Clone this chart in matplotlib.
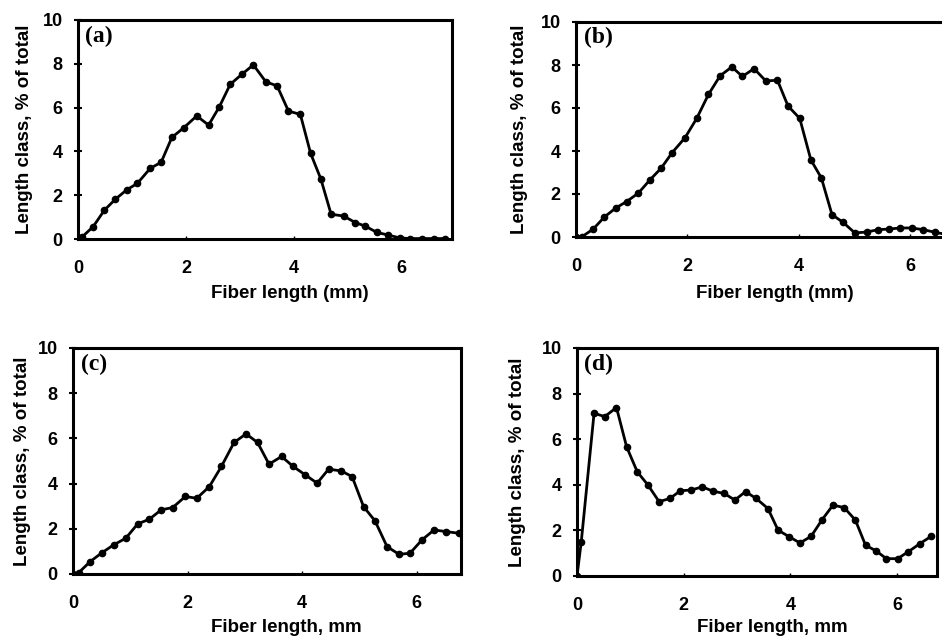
import matplotlib
matplotlib.use("Agg")
import matplotlib.pyplot as plt

# fiber length distributions
xa = [0.0, 0.07, 0.28, 0.49, 0.69, 0.90, 1.10, 1.34, 1.54, 1.74, 1.96, 2.20, 2.42, 2.62, 2.82,
      3.04, 3.25, 3.48, 3.69, 3.90, 4.12, 4.31, 4.50, 4.69, 4.92, 5.14, 5.32, 5.54, 5.75, 5.96,
      6.15, 6.37, 6.59, 6.80]
ya = [0.0, 0.08, 0.56, 1.32, 1.81, 2.24, 2.54, 3.23, 3.50, 4.64, 5.08, 5.62, 5.20, 6.04, 7.06,
      7.53, 7.95, 7.18, 6.99, 5.84, 5.69, 3.91, 2.74, 1.13, 1.05, 0.75, 0.59, 0.30, 0.18, 0.05,
      0.02, 0.02, 0.02, 0.02]

xb = [0.0, 0.10, 0.31, 0.51, 0.71, 0.91, 1.12, 1.33, 1.53, 1.73, 1.96, 2.17, 2.38, 2.59, 2.80,
      2.99, 3.20, 3.41, 3.62, 3.81, 4.02, 4.22, 4.41, 4.60, 4.80, 5.01, 5.22, 5.43, 5.62, 5.83,
      6.03, 6.24, 6.45, 6.65]
yb = [0.0, 0.0, 0.37, 0.93, 1.34, 1.65, 2.04, 2.66, 3.20, 3.93, 4.62, 5.52, 6.63, 7.50, 7.91,
      7.47, 7.83, 7.26, 7.29, 6.09, 5.52, 3.59, 2.74, 1.04, 0.68, 0.19, 0.23, 0.34, 0.37, 0.42,
      0.42, 0.34, 0.22, 0.12]

xc = [0.0, 0.10, 0.30, 0.51, 0.71, 0.92, 1.13, 1.33, 1.54, 1.74, 1.96, 2.16, 2.38, 2.59, 2.81,
      3.02, 3.22, 3.42, 3.64, 3.84, 4.05, 4.26, 4.46, 4.68, 4.87, 5.07, 5.27, 5.48, 5.69, 5.88,
      6.09, 6.30, 6.50, 6.74]
yc = [0.0, 0.06, 0.55, 0.95, 1.29, 1.58, 2.22, 2.42, 2.84, 2.94, 3.43, 3.35, 3.87, 4.76, 5.82,
      6.20, 5.82, 4.86, 5.20, 4.76, 4.39, 4.02, 4.64, 4.56, 4.31, 2.98, 2.35, 1.21, 0.87, 0.92,
      1.51, 1.95, 1.88, 1.80]

xd = [0.0, 0.08, 0.32, 0.52, 0.74, 0.93, 1.13, 1.33, 1.54, 1.74, 1.94, 2.14, 2.35, 2.55, 2.76,
      2.96, 3.16, 3.36, 3.58, 3.77, 3.98, 4.18, 4.39, 4.59, 4.80, 5.01, 5.22, 5.41, 5.61, 5.80,
      6.01, 6.21, 6.43, 6.64]
yd = [0.0, 1.50, 7.14, 6.99, 7.39, 5.67, 4.57, 3.99, 3.26, 3.40, 3.74, 3.77, 3.91, 3.72, 3.62,
      3.33, 3.70, 3.40, 2.96, 2.01, 1.72, 1.45, 1.74, 2.45, 3.11, 3.00, 2.45, 1.35, 1.10, 0.76,
      0.76, 1.06, 1.42, 1.74]

panels = ["(a)", "(b)", "(c)", "(d)"]
xlabels = ["Fiber length (mm)", "Fiber length (mm)", "Fiber length, mm", "Fiber length, mm"]
ylabel = "Length class, % of total"
yticks = [0, 2, 4, 6, 8, 10]
xticks = [0, 2, 4, 6]

W, H = 942, 639
# axes boxes in pixels: left, top, right, bottom
boxes = [(78, 20, 452, 239), (576, 22, 960, 237), (73, 348, 461, 574), (577, 348, 937, 576)]
xmax = [6.93, 6.9, 6.77, 6.75]
series = [(xa, ya), (xb, yb), (xc, yc), (xd, yd)]
ylab_x = [33, 528, 31, 526]     # right edge of rotated y label (px)
xlab_x = [290, 775, 286, 772]   # centre of x label (px)
xlab_y = [285, 285, 619, 619]   # top of x label (px)

plt.rcParams["font.family"] = ["Liberation Sans", "DejaVu Sans"]
plt.rcParams["font.weight"] = "bold"

fig = plt.figure(figsize=(W / 100, H / 100), dpi=100)

for i, (l, t, r, b) in enumerate(boxes):
    ax = fig.add_axes([l / W, (H - b) / H, (r - l) / W, (b - t) / H])
    x, y = series[i]
    ax.plot(x, y, color="black", lw=2.0, marker="o", ms=4.5, mfc="black", mec="black")
    ax.set_xlim(0, xmax[i])
    ax.set_ylim(0, 10)
    ax.set_xticks(xticks)
    ax.set_yticks(yticks)
    for s in ax.spines.values():
        s.set_linewidth(2.2)
    ax.tick_params(axis="y", direction="inout", length=6, width=1.5, pad=8, labelsize=13)
    ax.tick_params(axis="x", direction="in", length=2, width=1, pad=15, labelsize=13)
    for lab in ax.get_xticklabels() + ax.get_yticklabels():
        lab.set_fontweight("bold")
    ax.set_ylabel(ylabel, fontsize=13.5, fontweight="bold")
    ax.set_xlabel(xlabels[i], fontsize=13.5, fontweight="bold")
    ax.yaxis.set_label_coords((ylab_x[i] - l) / (r - l), 0.5)
    ax.xaxis.set_label_coords((xlab_x[i] - l) / (r - l), -(xlab_y[i] - b) / (b - t))
    ax.text(0.02, 0.975, panels[i], transform=ax.transAxes, ha="left", va="top",
            fontsize=17, fontweight="bold", family=["Liberation Serif", "DejaVu Serif"])

fig.savefig("out.png", dpi=100)
